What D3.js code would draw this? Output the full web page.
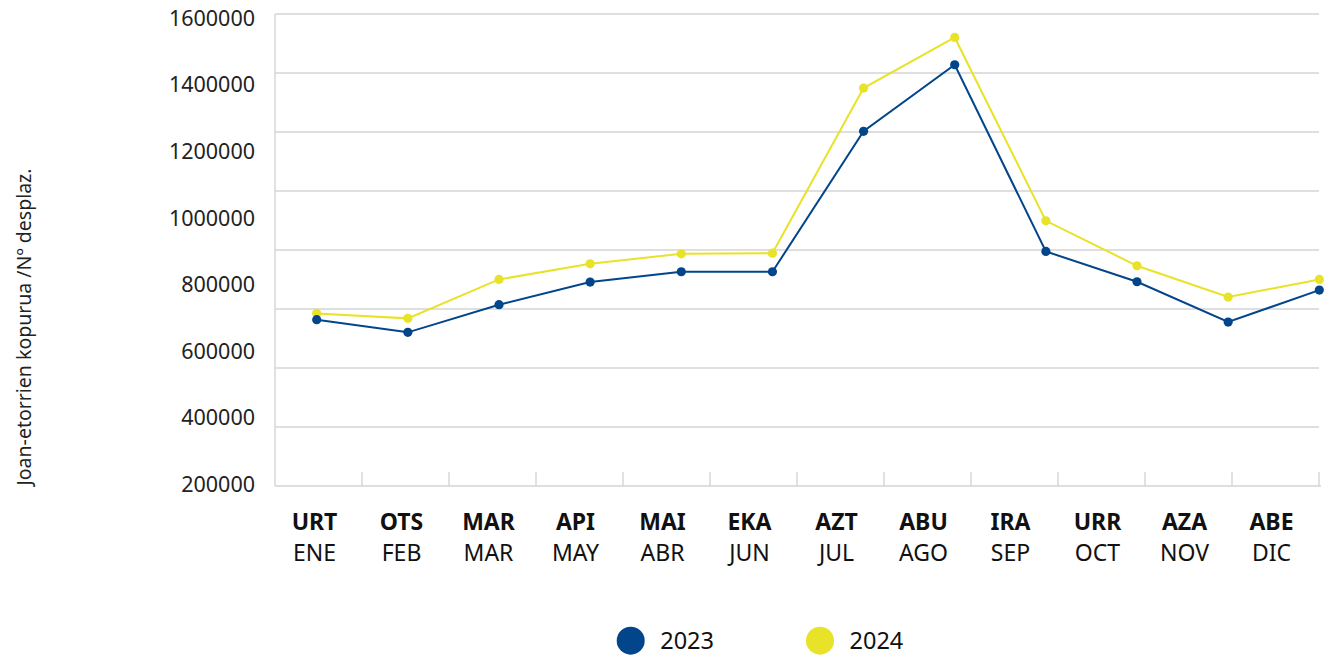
<!DOCTYPE html>
<html><head><meta charset="utf-8">
<script src="https://cdn.jsdelivr.net/npm/d3@7"></script>
<style>body{margin:0;background:#fff;} svg{display:block;font-family:"Noto Sans",sans-serif;}</style>
</head><body>
<svg id="c" width="1330" height="660"></svg>
<script>
const monthsEu = ["URT","OTS","MAR","API","MAI","EKA","AZT","ABU","IRA","URR","AZA","ABE"];
const monthsEs = ["ENE","FEB","MAR","MAY","ABR","JUN","JUL","AGO","SEP","OCT","NOV","DIC"];
const values2023 = [693000,655000,738000,806000,837000,837000,1259000,1459000,898000,807000,686000,782000];
const values2024 = [712000,697000,814000,861000,891000,893000,1389000,1541000,990000,855000,761000,814000];
const yTicks = [200000,400000,600000,800000,1000000,1200000,1400000,1600000];
const seriesNames = ["2023","2024"];
const colors = ["#02458a","#e8e228"];

const svg = d3.select("#c");
const pLeft = 275, pRight = 1319, pTop = 14, pBottom = 486;

// gridlines (evenly spaced background grid)
const grid = d3.scaleLinear().domain([0,8]).range([pBottom, pTop]);
svg.append("g").selectAll("line").data(d3.range(1,9)).join("line")
  .attr("x1", pLeft).attr("x2", pRight)
  .attr("y1", d=>grid(d)).attr("y2", d=>grid(d))
  .attr("stroke","#d4d4d4").attr("stroke-width",1.4);

// axes lines
svg.append("line").attr("x1",pLeft).attr("x2",pLeft).attr("y1",pTop).attr("y2",pBottom)
  .attr("stroke","#d4d4d4").attr("stroke-width",1.4);
svg.append("line").attr("x1",pLeft).attr("x2",pRight+2).attr("y1",pBottom).attr("y2",pBottom)
  .attr("stroke","#d4d4d4").attr("stroke-width",1.4);

// x band scale for ticks and labels
const xb = d3.scaleBand().domain(monthsEs).range([pLeft, pRight]);
const tickXs = monthsEs.slice(1).map(m=>xb(m)).concat([pRight]);
svg.append("g").selectAll("line").data(tickXs).join("line")
  .attr("x1",d=>d).attr("x2",d=>d)
  .attr("y1",pBottom-14).attr("y2",pBottom)
  .attr("stroke","#d4d4d4").attr("stroke-width",1.4);

const labG = svg.append("g").attr("fill","#111");
monthsEs.forEach((m,i)=>{
  const cx = xb(m) + xb.bandwidth()/2 - 4;
  labG.append("text").attr("x",cx).attr("y",530).attr("text-anchor","middle")
    .attr("font-size",23).attr("font-weight","bold").text(monthsEu[i]);
  labG.append("text").attr("x",cx).attr("y",561).attr("text-anchor","middle")
    .attr("font-size",23).text(m);
});

// y value scale
const y = d3.scaleLinear().domain([200000,1600000]).range([483.8,17.8]);
const yAxis = d3.axisLeft(y).tickValues(yTicks).tickFormat(d3.format("d")).tickSize(0).tickPadding(0);
const ya = svg.append("g").attr("transform",`translate(${pLeft-20},0)`).call(yAxis);
ya.select(".domain").remove();
ya.selectAll("text").attr("font-size",21.5).attr("fill","#222").attr("font-family","Noto Sans").attr("dy","0.35em");

// y title
svg.append("text").attr("transform","translate(31,327) rotate(-90)")
  .attr("text-anchor","middle").attr("font-size",19.5).attr("fill","#222")
  .text("Joan-etorrien kopurua /Nº desplaz.");

// data
const x = d3.scalePoint().domain(monthsEs).range([316.7, 1319.3]);
const series = [values2023, values2024];
const line = d3.line().x((d,i)=>x(monthsEs[i])).y(d=>y(d));
[1,0].forEach(s=>{
  svg.append("path").datum(series[s]).attr("d",line)
    .attr("fill","none").attr("stroke",colors[s]).attr("stroke-width",2);
  svg.append("g").selectAll("circle").data(series[s]).join("circle")
    .attr("cx",(d,i)=>x(monthsEs[i])).attr("cy",d=>y(d)).attr("r",4.6)
    .attr("fill",colors[s]);
});

// legend
const legX = [630.7, 820];
seriesNames.forEach((n,i)=>{
  svg.append("circle").attr("cx",legX[i]).attr("cy",640.7).attr("r",14).attr("fill",colors[i]);
  svg.append("text").attr("x",legX[i]+29.5).attr("y",649).attr("font-size",23.5).attr("fill","#111").text(n);
});
</script>
</body></html>
